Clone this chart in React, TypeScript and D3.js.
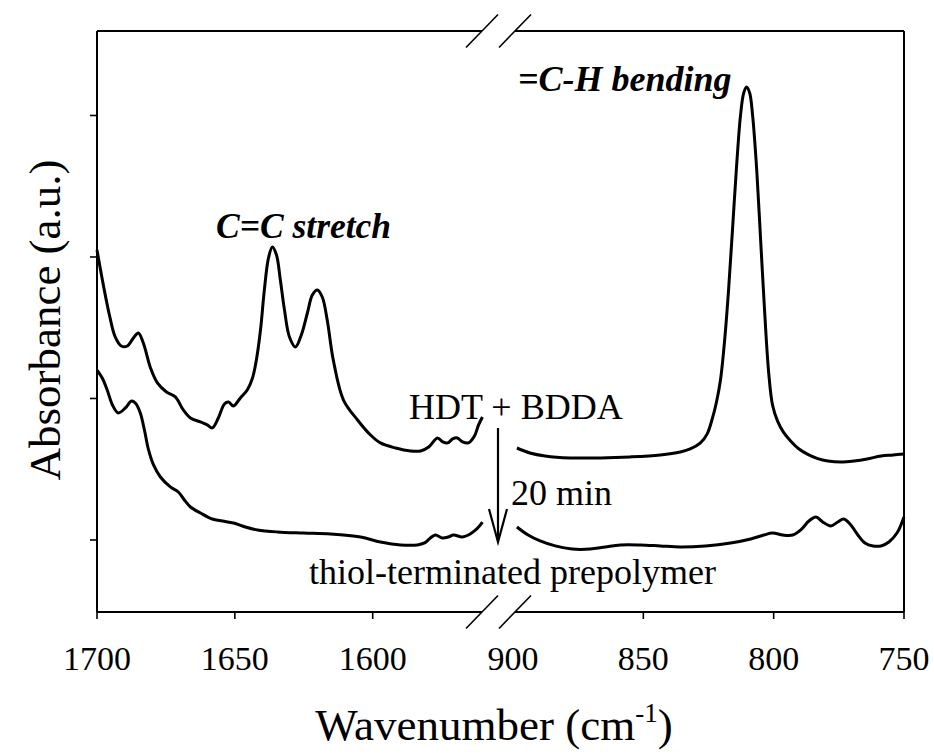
import React from "react";
import * as d3 from "d3";

// HDT + BDDA spectrum, high-wavenumber segment [wavenumber, absorbance]
const topLeft: [number, number][] = [
  [1700, 2.049], [1697.7, 1.802], [1695.5, 1.59], [1693.4, 1.435], [1691.2, 1.371],
  [1689, 1.371], [1686.8, 1.428], [1685, 1.463], [1683.2, 1.392], [1680.6, 1.216],
  [1678.1, 1.11], [1674.8, 1.046], [1671.6, 1.011], [1668.7, 0.919], [1666.1, 0.862],
  [1662.5, 0.834], [1660, 0.813], [1658.2, 0.792], [1656, 0.862], [1653.8, 0.961],
  [1652.3, 0.975], [1650.5, 0.947], [1648, 1.004], [1645.5, 1.06], [1643.6, 1.145],
  [1642.2, 1.272], [1640.7, 1.484], [1639.3, 1.767], [1637.8, 1.993], [1636.4, 2.071],
  [1634.9, 2.014], [1633.5, 1.837], [1632, 1.625], [1630.2, 1.435], [1628, 1.364],
  [1625.9, 1.449], [1623.7, 1.604], [1621.9, 1.731], [1620.1, 1.767], [1618.3, 1.717],
  [1616.5, 1.555], [1614.3, 1.272], [1610.6, 0.989], [1605.5, 0.848], [1600.8, 0.742],
  [1597.2, 0.686], [1591.7, 0.65], [1586.3, 0.629], [1582.6, 0.629], [1579.7, 0.657],
  [1576.5, 0.721], [1574.6, 0.693], [1572.8, 0.686], [1571, 0.714], [1569.3, 0.721],
  [1567.4, 0.693], [1565.3, 0.686], [1563.1, 0.735], [1561.6, 0.813], [1560.2, 0.869],
];

// HDT + BDDA spectrum, low-wavenumber segment
const topRight: [number, number][] = [
  [898.5, 0.65], [893.5, 0.615], [887.7, 0.594], [878.1, 0.58], [866.5, 0.58],
  [855, 0.587], [843.5, 0.601], [835.8, 0.622], [832, 0.643], [828.1, 0.686],
  [825.5, 0.75], [823.5, 0.86], [822, 0.97], [820.4, 1.131], [818.8, 1.413],
  [817.3, 1.767], [815.8, 2.191], [814.2, 2.65], [812.7, 3.004], [811.5, 3.159],
  [810.4, 3.201], [809.2, 3.159], [808.1, 3.004], [806.5, 2.615], [805.0, 2.12],
  [803.5, 1.625], [801.9, 1.18], [800.4, 0.95], [798.5, 0.84], [796.2, 0.76],
  [793.5, 0.70], [790.4, 0.645], [786.9, 0.605], [783.1, 0.575], [779.2, 0.558],
  [774.2, 0.551], [769.2, 0.558], [764.2, 0.572], [758.8, 0.594], [754.2, 0.601],
  [750, 0.608],
];

// thiol-terminated prepolymer, high-wavenumber segment
const botLeft: [number, number][] = [
  [1700, 1.201], [1698.1, 1.145], [1696.3, 1.06], [1694.4, 0.954], [1692.3, 0.898],
  [1689.7, 0.933], [1687.5, 0.982], [1686.1, 0.968], [1684.3, 0.898], [1682.8, 0.777],
  [1681.3, 0.636], [1679.5, 0.53], [1677, 0.445], [1673.4, 0.375], [1670.5, 0.339],
  [1668.3, 0.283], [1666.1, 0.233], [1662.5, 0.191], [1658.2, 0.148], [1654.5, 0.134],
  [1650.5, 0.12], [1646.2, 0.092], [1641.8, 0.071], [1634.6, 0.057], [1625.1, 0.049],
  [1615.3, 0.042], [1604.4, 0.021], [1597.2, -0.014], [1589.9, -0.035], [1583.8, -0.035],
  [1581.2, -0.021], [1579.1, 0.014], [1577.3, 0.035], [1574.7, 0.014], [1572.6, 0.021],
  [1570.7, 0.035], [1567.5, 0.021], [1565.3, 0.035], [1563.1, 0.064], [1561.6, 0.092],
  [1560.2, 0.127],
];

// thiol-terminated prepolymer, low-wavenumber segment
const botRight: [number, number][] = [
  [898.5, 0.092], [894.2, 0.035], [889.6, -0.007], [883.8, -0.042], [877.3, -0.064],
  [870.4, -0.064], [864.6, -0.049], [858.8, -0.035], [851.2, -0.035], [843.5, -0.042],
  [835.8, -0.049], [826.2, -0.042], [816.5, -0.021], [808.8, 0.007], [803.8, 0.035],
  [800.4, 0.049], [796.5, 0.035], [792.7, 0.035], [789.6, 0.071], [786.5, 0.134],
  [783.8, 0.163], [781.2, 0.127], [778.1, 0.099], [775.4, 0.127], [773.1, 0.148],
  [770.4, 0.106], [767.7, 0.035], [765, -0.021], [761.9, -0.042], [758.8, -0.042],
  [755.8, -0.014], [752.7, 0.049], [750, 0.163],
];

const leftTicks = [1700, 1650, 1600];
const rightTicks = [900, 850, 800, 750];
const yTicks = [0, 1, 2, 3];

const FONT = "'Liberation Serif', 'Tinos', 'Times New Roman', 'DejaVu Serif', 'Noto Serif', serif";

export default function App() {
  const W = 934, H = 755;
  const left = 97, right = 904, top = 31, bottom = 612;
  const breakL = 482, breakR = 515;

  const xL = d3.scaleLinear().domain([1700, 1560]).range([left, 483]);
  const xR = d3.scaleLinear().domain([900, 750]).range([513, right]);
  const y = d3.scaleLinear().domain([-0.509, 3.597]).range([bottom, top]);

  const lineL = d3.line<[number, number]>().x(d => xL(d[0])).y(d => y(d[1])).curve(d3.curveCatmullRom.alpha(0.5));
  const lineR = d3.line<[number, number]>().x(d => xR(d[0])).y(d => y(d[1])).curve(d3.curveCatmullRom.alpha(0.5));

  const slash = (cx: number, cy: number, k: string) => (
    <line key={k} x1={cx - 16} y1={cy + 16.5} x2={cx + 16} y2={cy - 16.5} stroke="#000" strokeWidth={1.6} />
  );
  const ts = { fontFamily: FONT };

  return (
    <svg width={W} height={H} style={{ position: "absolute", left: 0, top: 0, background: "#fff", fontFamily: FONT }}>
      <rect x={0} y={0} width={W} height={H} fill="#fff" />
      {/* frame */}
      <line x1={left} y1={top} x2={left} y2={bottom} stroke="#000" strokeWidth={2} />
      <line x1={right} y1={top} x2={right} y2={bottom} stroke="#000" strokeWidth={2} />
      <line x1={left} y1={top} x2={breakL} y2={top} stroke="#000" strokeWidth={2} />
      <line x1={breakR} y1={top} x2={right} y2={top} stroke="#000" strokeWidth={2} />
      <line x1={left} y1={bottom} x2={breakL} y2={bottom} stroke="#000" strokeWidth={2} />
      <line x1={breakR} y1={bottom} x2={right} y2={bottom} stroke="#000" strokeWidth={2} />
      {slash(breakL, top, "t1")}
      {slash(breakR, top, "t2")}
      {slash(breakL, bottom, "b1")}
      {slash(breakR, bottom, "b2")}

      {/* y ticks */}
      {yTicks.map(t => (
        <line key={"y" + t} x1={left - 7} x2={left} y1={y(t)} y2={y(t)} stroke="#000" strokeWidth={1.6} />
      ))}
      {/* x ticks */}
      {leftTicks.map(t => (
        <g key={"l" + t}>
          <line x1={xL(t)} x2={xL(t)} y1={bottom} y2={bottom + 7} stroke="#000" strokeWidth={1.6} />
          <text style={ts} x={xL(t)} y={670} fontSize={34} textAnchor="middle">{t}</text>
        </g>
      ))}
      {rightTicks.map(t => (
        <g key={"r" + t}>
          {t !== 900 && <line x1={xR(t)} x2={xR(t)} y1={bottom} y2={bottom + 7} stroke="#000" strokeWidth={1.6} />}
          <text style={ts} x={xR(t)} y={670} fontSize={34} textAnchor="middle">{t}</text>
        </g>
      ))}

      {/* spectra */}
      <path d={lineL(topLeft) || ""} fill="none" stroke="#000" strokeWidth={3} strokeLinejoin="round" />
      <path d={lineR(topRight) || ""} fill="none" stroke="#000" strokeWidth={3} strokeLinejoin="round" />
      <path d={lineL(botLeft) || ""} fill="none" stroke="#000" strokeWidth={3} strokeLinejoin="round" />
      <path d={lineR(botRight) || ""} fill="none" stroke="#000" strokeWidth={3} strokeLinejoin="round" />

      {/* arrow */}
      <line x1={498} y1={428} x2={498} y2={540} stroke="#000" strokeWidth={2.2} />
      <polyline points="489,509 498,542 507,509" fill="none" stroke="#000" strokeWidth={2.2} />

      {/* annotations */}
      <text style={ts} x={216} y={238} fontSize={35.5} fontWeight="bold" fontStyle="italic">C=C stretch</text>
      <text style={ts} x={518} y={91} fontSize={36} fontWeight="bold" fontStyle="italic">=C-H bending</text>
      <text style={ts} x={409} y={419} fontSize={36}>HDT + BDDA</text>
      <text style={ts} x={511} y={505} fontSize={36}>20 min</text>
      <text style={ts} x={309} y={584} fontSize={36}>thiol-terminated prepolymer</text>

      {/* axis titles */}
      <text style={ts} x={494} y={740} fontSize={45} textAnchor="middle">
        Wavenumber (cm<tspan fontSize={27} dy={-18}>-1</tspan><tspan dy={18}>)</tspan>
      </text>
      <text style={ts} transform="translate(60,320) rotate(-90)" fontSize={45} textAnchor="middle">Absorbance (a.u.)</text>
    </svg>
  );
}
